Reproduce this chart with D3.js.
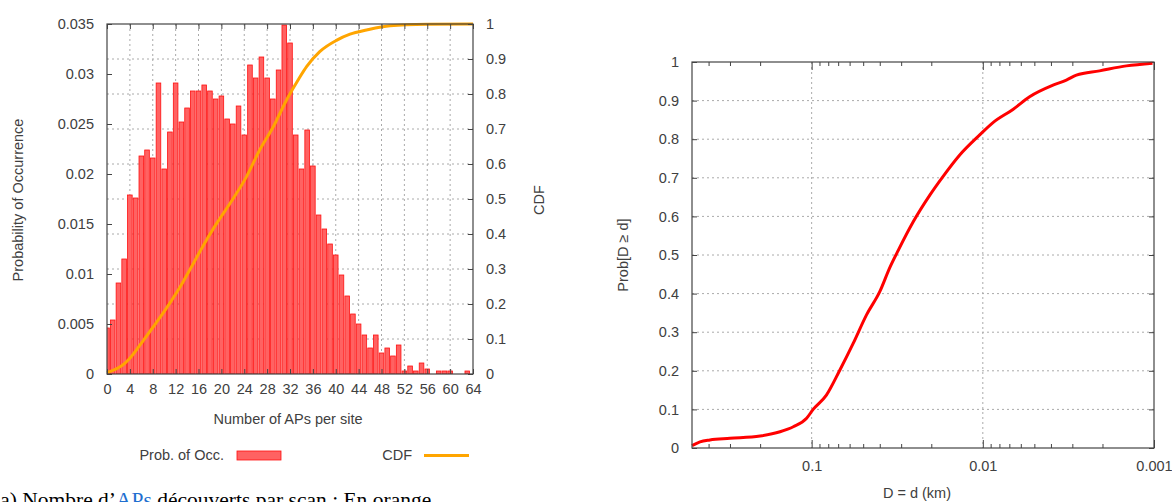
<!DOCTYPE html>
<html>
<head>
<meta charset="utf-8">
<script src="https://cdn.jsdelivr.net/npm/d3@7"></script>
<style>
  body { margin: 0; background: #fff; overflow: hidden; }
  svg { display: block; }
  text { font-family: "Liberation Sans", Arial, sans-serif; fill: #404040; }
  .caption { font-family: "Liberation Serif", "Times New Roman", serif; fill: #000; }
</style>
</head>
<body>
<div id="chart"></div>
<script>
// Setting up constants
const FRAME_WIDTH = 1172;
const FRAME_HEIGHT = 502;
const FONT = "14.5px";

// left chart: histogram (number of APs) + CDF
const apCounts = d3.range(0, 65);
const probOcc = [0.0046, 0.0054, 0.0091, 0.0115, 0.0179, 0.0176, 0.0218, 0.0224, 0.0216, 0.0291,
                 0.0205, 0.0242, 0.0291, 0.0252, 0.0266, 0.0283, 0.0283, 0.0289, 0.0283, 0.0275,
                 0.0278, 0.0255, 0.0250, 0.0268, 0.0239, 0.0309, 0.0296, 0.0317, 0.0296, 0.0275,
                 0.0304, 0.0349, 0.0331, 0.0239, 0.0205, 0.0244, 0.0208, 0.0159, 0.0145, 0.0130,
                 0.0119, 0.0099, 0.0078, 0.0060, 0.0050, 0.0039, 0.0026, 0.0039, 0.0021, 0.0026,
                 0.0018, 0.0029, 0.0003, 0.0008, 0.0003, 0.0011, 0.0005, 0, 0.0003, 0.0003,
                 0.0003, 0, 0, 0.0003, 0];
const cdfX = [0, 3, 4, 6.4, 8.1, 10.4, 12.8, 15.1, 17.4, 19.2, 22.1, 24.4, 26.7, 29.1, 31.4, 33.6,
              34.9, 37.2, 40.2, 42.5, 45.4, 49.5, 56, 64];
const cdfY = [0.004, 0.029, 0.045, 0.097, 0.135, 0.188, 0.249, 0.316, 0.383, 0.431, 0.502, 0.564,
              0.640, 0.707, 0.783, 0.845, 0.878, 0.921, 0.954, 0.971, 0.983, 0.995, 0.999, 1.0];
const leftXTicks = d3.range(0, 65, 4);
const leftYTicks = [0, 0.005, 0.01, 0.015, 0.02, 0.025, 0.03, 0.035];
const cdfTicks = [0, 0.1, 0.2, 0.3, 0.4, 0.5, 0.6, 0.7, 0.8, 0.9, 1];

// right chart: Prob[D >= d] vs distance (km)
const distKm = [0.5, 0.449, 0.393, 0.3, 0.2, 0.153, 0.128, 0.107, 0.098, 0.082, 0.0684, 0.0572,
                0.0478, 0.040, 0.0349, 0.0312, 0.0255, 0.0204, 0.0171, 0.01364, 0.01043,
                0.00872, 0.00667, 0.00533, 0.00389, 0.00325, 0.00284, 0.00208, 0.00145, 0.00102];
const probD = [0.006, 0.016, 0.021, 0.025, 0.031, 0.042, 0.055, 0.077, 0.100, 0.137, 0.202, 0.271,
               0.345, 0.405, 0.468, 0.512, 0.586, 0.655, 0.703, 0.759, 0.811,
               0.843, 0.877, 0.910, 0.940, 0.953, 0.966, 0.977, 0.990, 0.997];
const distTicks = [0.1, 0.01, 0.001];
const distTickLabels = ["0.1", "0.01", "0.001"];
const probTicks = [0, 0.1, 0.2, 0.3, 0.4, 0.5, 0.6, 0.7, 0.8, 0.9, 1];

const LEFT = {left: 107, right: 473, top: 24, bottom: 374};
const RIGHT = {left: 692, right: 1154, top: 62, bottom: 448};

const SVG = d3.select("#chart")
              .append("svg")
                .attr("width", FRAME_WIDTH)
                .attr("height", FRAME_HEIGHT);

// helper for gnuplot-like inward axes (no domain line)
function styleAxis(g) {
  g.select(".domain").remove();
  g.selectAll(".tick line").attr("stroke", "#444");
  g.selectAll(".tick text").style("font-size", FONT).attr("fill", "#404040");
}

// ---------------- left chart ----------------
const X1 = d3.scaleLinear().domain([0, 64]).range([LEFT.left, LEFT.right]);
const Y1 = d3.scaleLinear().domain([0, 0.035]).range([LEFT.bottom, LEFT.top]);
const Y2 = d3.scaleLinear().domain([0, 1]).range([LEFT.bottom, LEFT.top]);

SVG.append("clipPath").attr("id", "clipLeft")
   .append("rect")
     .attr("x", LEFT.left).attr("y", LEFT.top)
     .attr("width", LEFT.right - LEFT.left).attr("height", LEFT.bottom - LEFT.top);

// grid
const grid1 = SVG.append("g").attr("stroke", "#aaa").attr("stroke-dasharray", "2,3");
grid1.selectAll(".vg").data(leftXTicks.slice(1, -1)).enter().append("line")
     .attr("x1", d => X1(d)).attr("x2", d => X1(d))
     .attr("y1", LEFT.top).attr("y2", LEFT.bottom);
grid1.selectAll(".hg").data(cdfTicks.slice(1, -1)).enter().append("line")
     .attr("x1", LEFT.left).attr("x2", LEFT.right)
     .attr("y1", d => Y2(d)).attr("y2", d => Y2(d));

// bars
const BAR_W = 4.6;
SVG.append("g").attr("clip-path", "url(#clipLeft)")
   .selectAll(".bar")
   .data(apCounts.filter(i => probOcc[i] > 0))
   .enter().append("rect")
     .attr("class", "bar")
     .attr("x", i => X1(i) - BAR_W / 2)
     .attr("y", i => Y1(probOcc[i]))
     .attr("width", BAR_W)
     .attr("height", i => LEFT.bottom - Y1(probOcc[i]))
     .attr("fill", "#ff6262")
     .attr("stroke", "#ff1010")
     .attr("stroke-width", 0.8);

// CDF line
SVG.append("path")
   .datum(cdfX.map((x, i) => [x, cdfY[i]]))
   .attr("fill", "none")
   .attr("stroke", "#ffa500")
   .attr("stroke-width", 3)
   .attr("d", d3.line().x(d => X1(d[0])).y(d => Y2(d[1])).curve(d3.curveMonotoneX));

// axes
SVG.append("g").attr("transform", "translate(0," + LEFT.bottom + ")")
   .call(d3.axisBottom(X1).tickValues(leftXTicks).tickSize(-5).tickPadding(10)).call(styleAxis);
SVG.append("g").attr("transform", "translate(0," + LEFT.top + ")")
   .call(d3.axisTop(X1).tickValues(leftXTicks).tickSize(-5).tickFormat("")).call(styleAxis);
SVG.append("g").attr("transform", "translate(" + LEFT.left + ",0)")
   .call(d3.axisLeft(Y1).tickValues(leftYTicks).tickSize(-5).tickPadding(13)
           .tickFormat(d => d === 0 ? "0" : d3.format("")(+d.toFixed(3)))).call(styleAxis);
SVG.append("g").attr("transform", "translate(" + LEFT.right + ",0)")
   .call(d3.axisRight(Y2).tickValues(cdfTicks).tickSize(-5).tickPadding(13)
           .tickFormat(d => d3.format("")(+d.toFixed(1)))).call(styleAxis);

SVG.append("rect")
   .attr("x", LEFT.left).attr("y", LEFT.top)
   .attr("width", LEFT.right - LEFT.left).attr("height", LEFT.bottom - LEFT.top)
   .attr("fill", "none").attr("stroke", "#444").attr("stroke-width", 1.2);

// labels
SVG.append("text").attr("transform", "translate(23,200) rotate(-90)")
   .attr("text-anchor", "middle").style("font-size", FONT).text("Probability of Occurrence");
SVG.append("text").attr("transform", "translate(544,200) rotate(-90)")
   .attr("text-anchor", "middle").style("font-size", FONT).text("CDF");
SVG.append("text").attr("x", 288).attr("y", 424)
   .attr("text-anchor", "middle").style("font-size", FONT).text("Number of APs per site");

// legend
SVG.append("text").attr("x", 224).attr("y", 460)
   .attr("text-anchor", "end").style("font-size", FONT).text("Prob. of Occ.");
SVG.append("rect").attr("x", 237).attr("y", 451).attr("width", 44).attr("height", 9)
   .attr("fill", "#ff6262").attr("stroke", "#ff1010").attr("stroke-width", 0.8);
SVG.append("text").attr("x", 412).attr("y", 460)
   .attr("text-anchor", "end").style("font-size", FONT).text("CDF");
SVG.append("line").attr("x1", 424).attr("x2", 469).attr("y1", 455.5).attr("y2", 455.5)
   .attr("stroke", "#ffa500").attr("stroke-width", 3);

// ---------------- right chart ----------------
const XD = d3.scaleLog().domain([0.5, 0.001]).range([RIGHT.left, RIGHT.right]);
const YD = d3.scaleLinear().domain([0, 1]).range([RIGHT.bottom, RIGHT.top]);

const grid2 = SVG.append("g").attr("stroke", "#aaa").attr("stroke-dasharray", "2,3");
grid2.selectAll(".vg").data(distTicks.slice(0, 2)).enter().append("line")
     .attr("x1", d => XD(d)).attr("x2", d => XD(d))
     .attr("y1", RIGHT.top).attr("y2", RIGHT.bottom);
grid2.selectAll(".hg").data(probTicks.slice(1, -1)).enter().append("line")
     .attr("x1", RIGHT.left).attr("x2", RIGHT.right)
     .attr("y1", d => YD(d)).attr("y2", d => YD(d));

// minor ticks (log) on bottom and top
const minorTicks = XD.ticks().filter(d => d < 0.5 && d > 0.001 && distTicks.indexOf(d) < 0);
SVG.append("g").attr("transform", "translate(0," + RIGHT.bottom + ")")
   .call(d3.axisBottom(XD).tickValues(minorTicks).tickSize(-4).tickFormat("")).call(styleAxis);
SVG.append("g").attr("transform", "translate(0," + RIGHT.top + ")")
   .call(d3.axisTop(XD).tickValues(minorTicks).tickSize(-4).tickFormat("")).call(styleAxis);
SVG.append("g").attr("transform", "translate(0," + RIGHT.bottom + ")")
   .call(d3.axisBottom(XD).tickValues(distTicks).tickSize(-8).tickPadding(13)
           .tickFormat((d, i) => distTickLabels[i])).call(styleAxis);
SVG.append("g").attr("transform", "translate(0," + RIGHT.top + ")")
   .call(d3.axisTop(XD).tickValues(distTicks).tickSize(-8).tickFormat("")).call(styleAxis);
SVG.append("g").attr("transform", "translate(" + RIGHT.left + ",0)")
   .call(d3.axisLeft(YD).tickValues(probTicks).tickSize(-5).tickPadding(13)
           .tickFormat(d => d3.format("")(+d.toFixed(1)))).call(styleAxis);
SVG.append("g").attr("transform", "translate(" + RIGHT.right + ",0)")
   .call(d3.axisRight(YD).tickValues(probTicks).tickSize(-5).tickFormat("")).call(styleAxis);

SVG.append("path")
   .datum(distKm.map((d, i) => [d, probD[i]]))
   .attr("fill", "none")
   .attr("stroke", "#ff0000")
   .attr("stroke-width", 3)
   .attr("stroke-linejoin", "round")
   .attr("d", d3.line().x(d => XD(d[0])).y(d => YD(d[1])).curve(d3.curveMonotoneX));

SVG.append("rect")
   .attr("x", RIGHT.left).attr("y", RIGHT.top)
   .attr("width", RIGHT.right - RIGHT.left).attr("height", RIGHT.bottom - RIGHT.top)
   .attr("fill", "none").attr("stroke", "#444").attr("stroke-width", 1.2);

SVG.append("text").attr("transform", "translate(628,255) rotate(-90)")
   .attr("text-anchor", "middle").style("font-size", FONT).text("Prob[D ≥ d]");
SVG.append("text").attr("x", 917).attr("y", 498)
   .attr("text-anchor", "middle").style("font-size", FONT).text("D = d (km)");

// caption (cut by the bottom edge, as in the original page)
const CAPTION = SVG.append("text").attr("class", "caption")
   .attr("x", -7).attr("y", 507).style("font-size", "21.5px");
CAPTION.append("tspan").text("(a) Nombre d’");
CAPTION.append("tspan").style("fill", "#1f6fd0").text("APs");
CAPTION.append("tspan").text(" découverts par scan : En orange");
</script>
</body>
</html>
